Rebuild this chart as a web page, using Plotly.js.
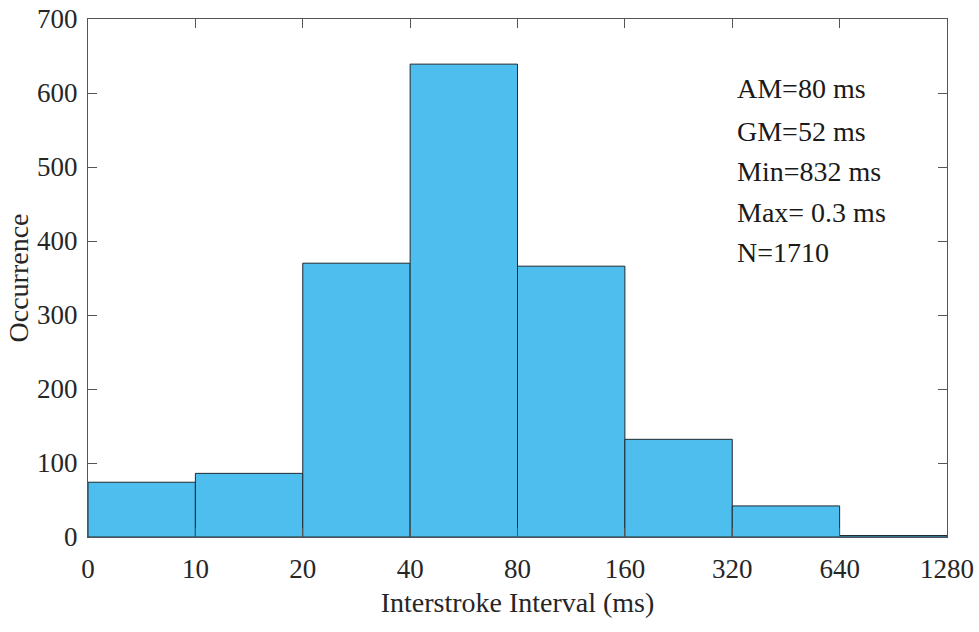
<!DOCTYPE html>
<html>
<head>
<meta charset="utf-8">
<script src="https://cdn.plot.ly/plotly-3.0.1.min.js"></script>
<style>html,body{margin:0;padding:0;background:#fff;}#chart{width:979px;height:632px;}</style>
</head>
<body>
<div id="chart"></div>
<script>
const binIndex = [0.5, 1.5, 2.5, 3.5, 4.5, 5.5, 6.5, 7.5];
const occurrence = [74, 86, 370, 639, 366, 132, 42, 2];
const edgeTicks = [0, 1, 2, 3, 4, 5, 6, 7, 8];
const edgeLabels = ['0', '10', '20', '40', '80', '160', '320', '640', '1280'];
const statsLines = ['AM=80 ms', 'GM=52 ms', 'Min=832 ms', 'Max= 0.3 ms', 'N=1710'];
const statsY = [606, 548, 494, 439, 385];

const font = 'Liberation Serif, Times New Roman, serif';

const trace = {
  type: 'bar',
  x: binIndex,
  y: occurrence,
  width: 1,
  marker: {color: '#4DBEEE', line: {color: '#1f2a30', width: 1}},
  hoverinfo: 'y'
};

const layout = {
  width: 979, height: 632,
  margin: {l: 88, r: 32, t: 19, b: 95},
  paper_bgcolor: '#fff', plot_bgcolor: '#fff',
  font: {family: font, color: '#262626', size: 27},
  showlegend: false,
  bargap: 0,
  xaxis: {
    range: [0, 8], tickmode: 'array', tickvals: edgeTicks, ticktext: edgeLabels,
    ticks: 'inside', ticklen: 9, tickcolor: '#555', showline: true, linecolor: '#555', linewidth: 1,
    mirror: 'ticks', showgrid: false, zeroline: false, ticklabelstandoff: 8,
    tickfont: {family: font, size: 27, color: '#262626'},
    title: {text: 'Interstroke Interval (ms)', font: {family: font, size: 28, color: '#262626'}, standoff: 8}
  },
  yaxis: {
    range: [0, 700], tickvals: [0, 100, 200, 300, 400, 500, 600, 700],
    ticks: 'inside', ticklen: 9, tickcolor: '#555', showline: true, linecolor: '#555', linewidth: 1,
    mirror: 'ticks', showgrid: false, zeroline: false, ticklabelstandoff: 4,
    tickfont: {family: font, size: 27, color: '#262626'},
    title: {text: 'Occurrence', font: {family: font, size: 28, color: '#262626'}, standoff: 0}
  },
  annotations: statsLines.map((t, i) => ({
    x: 6.03, y: statsY[i], xref: 'x', yref: 'y', text: t, showarrow: false,
    xanchor: 'left', yanchor: 'middle', font: {family: font, size: 28, color: '#1a1a1a'}
  }))
};

Plotly.newPlot('chart', [trace], layout, {displayModeBar: false, staticPlot: true});
</script>
</body>
</html>
